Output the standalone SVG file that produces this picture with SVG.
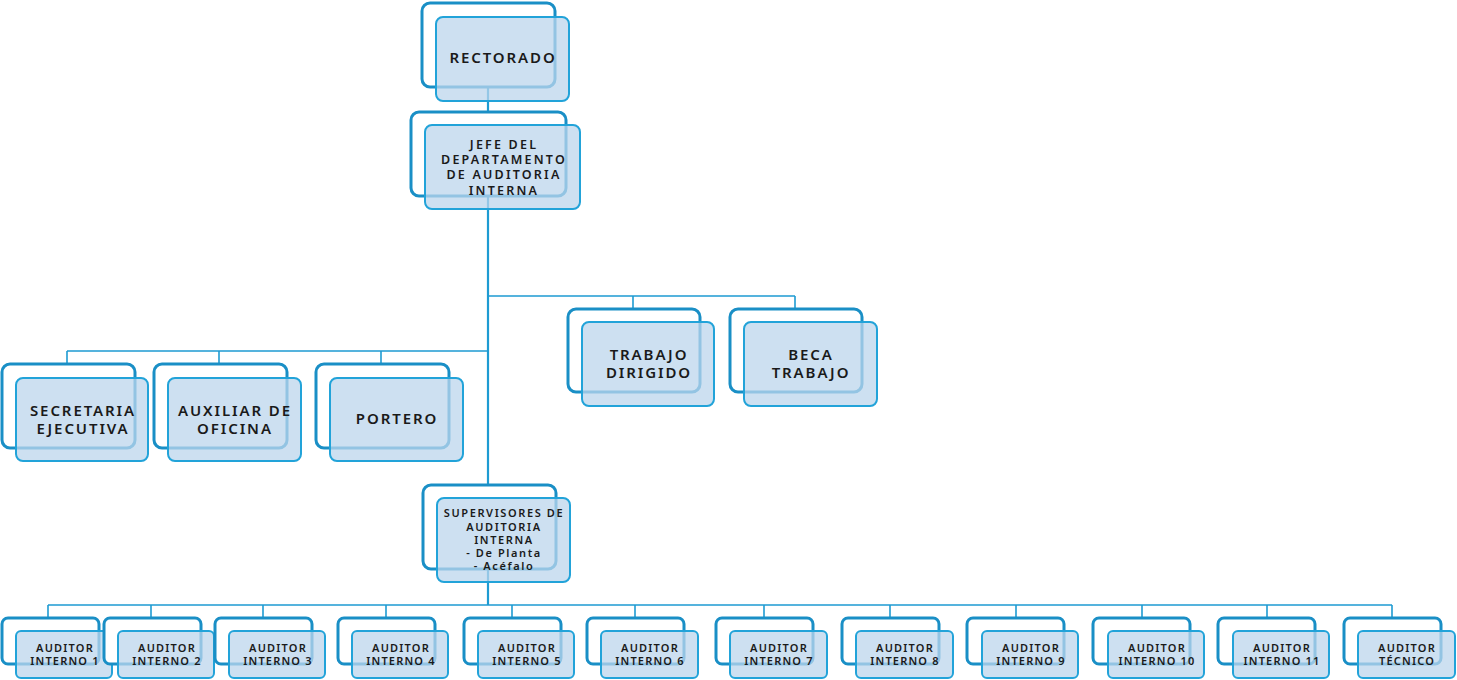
<svg xmlns="http://www.w3.org/2000/svg" width="1457" height="680" viewBox="0 0 1457 680">
<style>
.bk{fill:#ffffff;stroke:#1a8fc6;stroke-width:3}
.fr{fill:#bcd5ec;fill-opacity:0.75;stroke:#22a3d9;stroke-width:2}
.ln{fill:none;stroke:#1e9bd2;stroke-width:1.6}
.lm{fill:none;stroke:#1e9bd2;stroke-width:2.2}
text{font-family:"Noto Sans","Liberation Sans",sans-serif;font-weight:600;fill:#1a1a1a;text-anchor:middle}
.t15{font-size:15px;letter-spacing:1.9px}
.t13{font-size:12.5px;letter-spacing:2.2px}
.t11{font-size:11px;letter-spacing:1.6px}
.ta{font-size:11px;letter-spacing:1.2px}
</style>
<g id="connectors">
<path class="lm" d="M488 87V605"/>
<path class="ln" d="M488 296H795M633 296V309M795 296V309"/>
<path class="ln" d="M67 351H488M67 351V364M219 351V364M381 351V364"/>
<path class="ln" d="M48 605H1392M48 605V618M151 605V618M263 605V618M386 605V618M512 605V618M635 605V618M764 605V618M890 605V618M1016 605V618M1142 605V618M1267 605V618M1392 605V618"/>
</g>
<g id="rectorado">
<rect class="bk" x="422" y="3" width="133" height="84" rx="8"/>
<rect class="fr" x="436" y="17" width="133" height="84" rx="7"/>
<text class="t15" x="503" y="63">RECTORADO</text>
</g>
<g id="jefe">
<rect class="bk" x="411" y="112" width="155" height="84" rx="8"/>
<rect class="fr" x="425" y="125" width="155" height="84" rx="7"/>
<text class="t13" x="504" y="149">JEFE DEL</text>
<text class="t13" x="504" y="164">DEPARTAMENTO</text>
<text class="t13" x="504" y="179">DE AUDITORIA</text>
<text class="t13" x="504" y="195">INTERNA</text>
</g>
<g id="secretaria">
<rect class="bk" x="2" y="364" width="133" height="84" rx="8"/>
<rect class="fr" x="16" y="378" width="132" height="83" rx="7"/>
<text class="t15" x="83" y="415.5">SECRETARIA</text>
<text class="t15" x="83" y="433.5">EJECUTIVA</text>
</g>
<g id="auxiliar">
<rect class="bk" x="154" y="364" width="133" height="84" rx="8"/>
<rect class="fr" x="168" y="378" width="133" height="83" rx="7"/>
<text class="t15" x="235" y="415.5">AUXILIAR DE</text>
<text class="t15" x="235" y="433.5">OFICINA</text>
</g>
<g id="portero">
<rect class="bk" x="316" y="364" width="133" height="84" rx="8"/>
<rect class="fr" x="330" y="378" width="133" height="83" rx="7"/>
<text class="t15" x="397" y="424">PORTERO</text>
</g>
<g id="trabajo-dirigido">
<rect class="bk" x="568" y="309" width="132" height="83" rx="8"/>
<rect class="fr" x="582" y="322" width="132" height="84" rx="7"/>
<text class="t15" x="649" y="360">TRABAJO</text>
<text class="t15" x="649" y="378">DIRIGIDO</text>
</g>
<g id="beca-trabajo">
<rect class="bk" x="730" y="309" width="132" height="83" rx="8"/>
<rect class="fr" x="744" y="322" width="133" height="84" rx="7"/>
<text class="t15" x="811" y="360">BECA</text>
<text class="t15" x="811" y="378">TRABAJO</text>
</g>
<g id="supervisores">
<rect class="bk" x="423" y="485" width="133" height="84" rx="8"/>
<rect class="fr" x="437" y="498" width="133" height="84" rx="7"/>
<text class="t11" x="504" y="517">SUPERVISORES DE</text>
<text class="t11" x="504" y="530.5">AUDITORIA</text>
<text class="t11" x="504" y="544">INTERNA</text>
<text class="t11" x="504" y="557">- De Planta</text>
<text class="t11" x="504" y="570">- Acéfalo</text>
</g>
<g id="auditor-1"><rect class="bk" x="2" y="618" width="97" height="46" rx="6"/><rect class="fr" x="16" y="631" width="96" height="47" rx="5"/><text class="ta" x="65" y="652">AUDITOR</text><text class="ta" x="65" y="665">INTERNO 1</text></g>
<g id="auditor-2"><rect class="bk" x="104" y="618" width="97" height="46" rx="6"/><rect class="fr" x="118" y="631" width="96" height="47" rx="5"/><text class="ta" x="167" y="652">AUDITOR</text><text class="ta" x="167" y="665">INTERNO 2</text></g>
<g id="auditor-3"><rect class="bk" x="215" y="618" width="97" height="46" rx="6"/><rect class="fr" x="229" y="631" width="96" height="47" rx="5"/><text class="ta" x="278" y="652">AUDITOR</text><text class="ta" x="278" y="665">INTERNO 3</text></g>
<g id="auditor-4"><rect class="bk" x="338" y="618" width="97" height="46" rx="6"/><rect class="fr" x="352" y="631" width="96" height="47" rx="5"/><text class="ta" x="401" y="652">AUDITOR</text><text class="ta" x="401" y="665">INTERNO 4</text></g>
<g id="auditor-5"><rect class="bk" x="464" y="618" width="97" height="46" rx="6"/><rect class="fr" x="478" y="631" width="96" height="47" rx="5"/><text class="ta" x="527" y="652">AUDITOR</text><text class="ta" x="527" y="665">INTERNO 5</text></g>
<g id="auditor-6"><rect class="bk" x="587" y="618" width="97" height="46" rx="6"/><rect class="fr" x="601" y="631" width="97" height="47" rx="5"/><text class="ta" x="650" y="652">AUDITOR</text><text class="ta" x="650" y="665">INTERNO 6</text></g>
<g id="auditor-7"><rect class="bk" x="716" y="618" width="97" height="46" rx="6"/><rect class="fr" x="730" y="631" width="97" height="47" rx="5"/><text class="ta" x="779" y="652">AUDITOR</text><text class="ta" x="779" y="665">INTERNO 7</text></g>
<g id="auditor-8"><rect class="bk" x="842" y="618" width="97" height="46" rx="6"/><rect class="fr" x="856" y="631" width="97" height="47" rx="5"/><text class="ta" x="905" y="652">AUDITOR</text><text class="ta" x="905" y="665">INTERNO 8</text></g>
<g id="auditor-9"><rect class="bk" x="967" y="618" width="97" height="46" rx="6"/><rect class="fr" x="982" y="631" width="96" height="47" rx="5"/><text class="ta" x="1031" y="652">AUDITOR</text><text class="ta" x="1031" y="665">INTERNO 9</text></g>
<g id="auditor-10"><rect class="bk" x="1093" y="618" width="97" height="46" rx="6"/><rect class="fr" x="1108" y="631" width="96" height="47" rx="5"/><text class="ta" x="1157" y="652">AUDITOR</text><text class="ta" x="1157" y="665">INTERNO 10</text></g>
<g id="auditor-11"><rect class="bk" x="1218" y="618" width="97" height="46" rx="6"/><rect class="fr" x="1233" y="631" width="96" height="47" rx="5"/><text class="ta" x="1282" y="652">AUDITOR</text><text class="ta" x="1282" y="665">INTERNO 11</text></g>
<g id="auditor-tecnico"><rect class="bk" x="1344" y="618" width="97" height="46" rx="6"/><rect class="fr" x="1358" y="631" width="97" height="47" rx="5"/><text class="ta" x="1407" y="652">AUDITOR</text><text class="ta" x="1407" y="665">TÉCNICO</text></g>
</svg>
